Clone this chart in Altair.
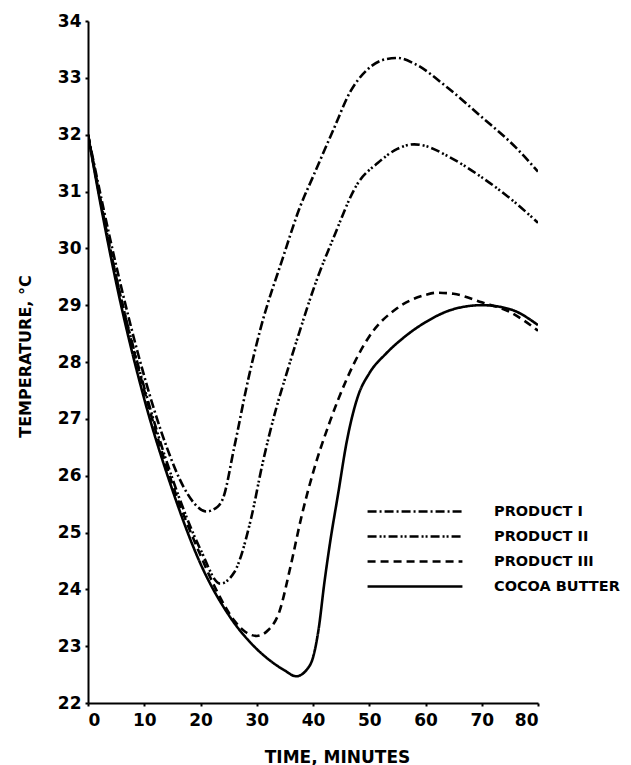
import altair as alt
import pandas as pd

series_names = ["PRODUCT I", "PRODUCT II", "PRODUCT III", "COCOA BUTTER"]

p1_time = [0, 5, 10, 14, 17, 19.5, 21, 23, 24, 26, 28.5, 30.6, 34.7, 37.7, 40, 43.6, 46.6, 49.6, 53, 55, 58, 64, 70, 76, 80]
p1_temp = [32.0, 29.7, 27.75, 26.5, 25.8, 25.45, 25.37, 25.45, 25.6, 26.5, 27.7, 28.56, 29.85, 30.73, 31.26, 32.08, 32.75, 33.14, 33.33, 33.35, 33.25, 32.82, 32.31, 31.78, 31.35]

p2_time = [0, 5, 10, 15, 20, 23.5, 26, 29, 31, 33.5, 35, 37.5, 40.5, 43.5, 48, 51.5, 55, 58, 60, 64, 70, 76, 80]
p2_temp = [32.0, 29.5, 27.55, 25.95, 24.7, 24.1, 24.3, 25.25, 26.2, 27.2, 27.7, 28.5, 29.4, 30.15, 31.15, 31.5, 31.75, 31.83, 31.8, 31.62, 31.25, 30.8, 30.45]

p3_time = [0, 5, 10, 15, 20, 23, 26, 28, 30, 32, 34, 36, 38, 40, 43, 46, 50, 55, 60, 62, 65, 70, 75, 80]
p3_temp = [32.0, 29.5, 27.5, 25.85, 24.6, 23.95, 23.45, 23.25, 23.18, 23.28, 23.6, 24.4, 25.3, 26.05, 26.95, 27.7, 28.45, 28.95, 29.18, 29.22, 29.2, 29.05, 28.88, 28.55]

cb_time = [0, 2, 5, 10, 15, 20, 25, 30, 33, 35, 37, 39, 40, 41, 42, 43, 44.5, 46, 48, 50, 53, 56, 60, 65, 70, 75, 80]
cb_temp = [32.0, 30.9, 29.4, 27.35, 25.75, 24.45, 23.55, 22.95, 22.7, 22.57, 22.47, 22.6, 22.8, 23.3, 24.1, 24.8, 25.7, 26.6, 27.4, 27.8, 28.15, 28.42, 28.7, 28.93, 29.0, 28.93, 28.65]

dash_patterns = [[9, 3, 2, 3], [9, 3, 2, 2, 2, 3], [8, 5], [1, 0]]

x_ticks = [0, 10, 20, 30, 40, 50, 60, 70, 80]
y_ticks = list(range(22, 35))

rows = []
for name, ts, vs in zip(series_names,
                        [p1_time, p2_time, p3_time, cb_time],
                        [p1_temp, p2_temp, p3_temp, cb_temp]):
    for t, v in zip(ts, vs):
        rows.append({"series": name, "time": t, "temp": v})
df = pd.DataFrame(rows)

FONT = "DejaVu Sans"

chart = alt.Chart(df).mark_line(
    stroke="black", strokeWidth=2.6, interpolate="monotone", clip=True
).encode(
    x=alt.X("time:Q",
            scale=alt.Scale(domain=[0, 80], nice=False, zero=False),
            axis=alt.Axis(values=x_ticks, title="TIME, MINUTES", grid=False,
                          domainColor="black", domainWidth=2, tickColor="black",
                          tickWidth=2, tickSize=3, labelPadding=6,
                          labelFont=FONT, labelFontWeight="bold", labelFontSize=17,
                          labelColor="black",
                          titleFont=FONT, titleFontWeight="bold", titleFontSize=17,
                          titleColor="black", titleX=249, titleY=59,
                          titleBaseline="alphabetic", titleAlign="center")),
    y=alt.Y("temp:Q",
            scale=alt.Scale(domain=[22, 34], nice=False, zero=False),
            axis=alt.Axis(values=y_ticks, title="TEMPERATURE, °C", grid=False,
                          domainColor="black", domainWidth=2, tickColor="black",
                          tickWidth=2, tickSize=3, labelPadding=4,
                          labelFont=FONT, labelFontWeight="bold", labelFontSize=17,
                          labelColor="black",
                          titleFont=FONT, titleFontWeight="bold", titleFontSize=16,
                          titleColor="black", titleAngle=-90, titleX=-58, titleY=335,
                          titleBaseline="alphabetic", titleAlign="center")),
    strokeDash=alt.StrokeDash("series:N",
                              scale=alt.Scale(domain=series_names, range=dash_patterns),
                              legend=alt.Legend(orient="none", legendX=278, legendY=482,
                                                title=None, symbolType="stroke",
                                                symbolSize=9000, symbolStrokeWidth=2.6,
                                                symbolStrokeColor="black",
                                                clipHeight=17, padding=0,
                                                labelFont=FONT, labelFontWeight="bold",
                                                labelFontSize=14.5, labelColor="black",
                                                labelOffset=30, rowPadding=8,
                                                labelLimit=300)),
    detail="series:N",
).properties(
    width=450, height=682,
    padding={"left": 80, "top": 13, "right": 85, "bottom": 62},
    autosize=alt.AutoSizeParams(type="none"),
    background="white",
).configure_view(stroke=None, strokeWidth=0)

chart.save("out.html", embed_options={"renderer": "svg", "actions": False})
